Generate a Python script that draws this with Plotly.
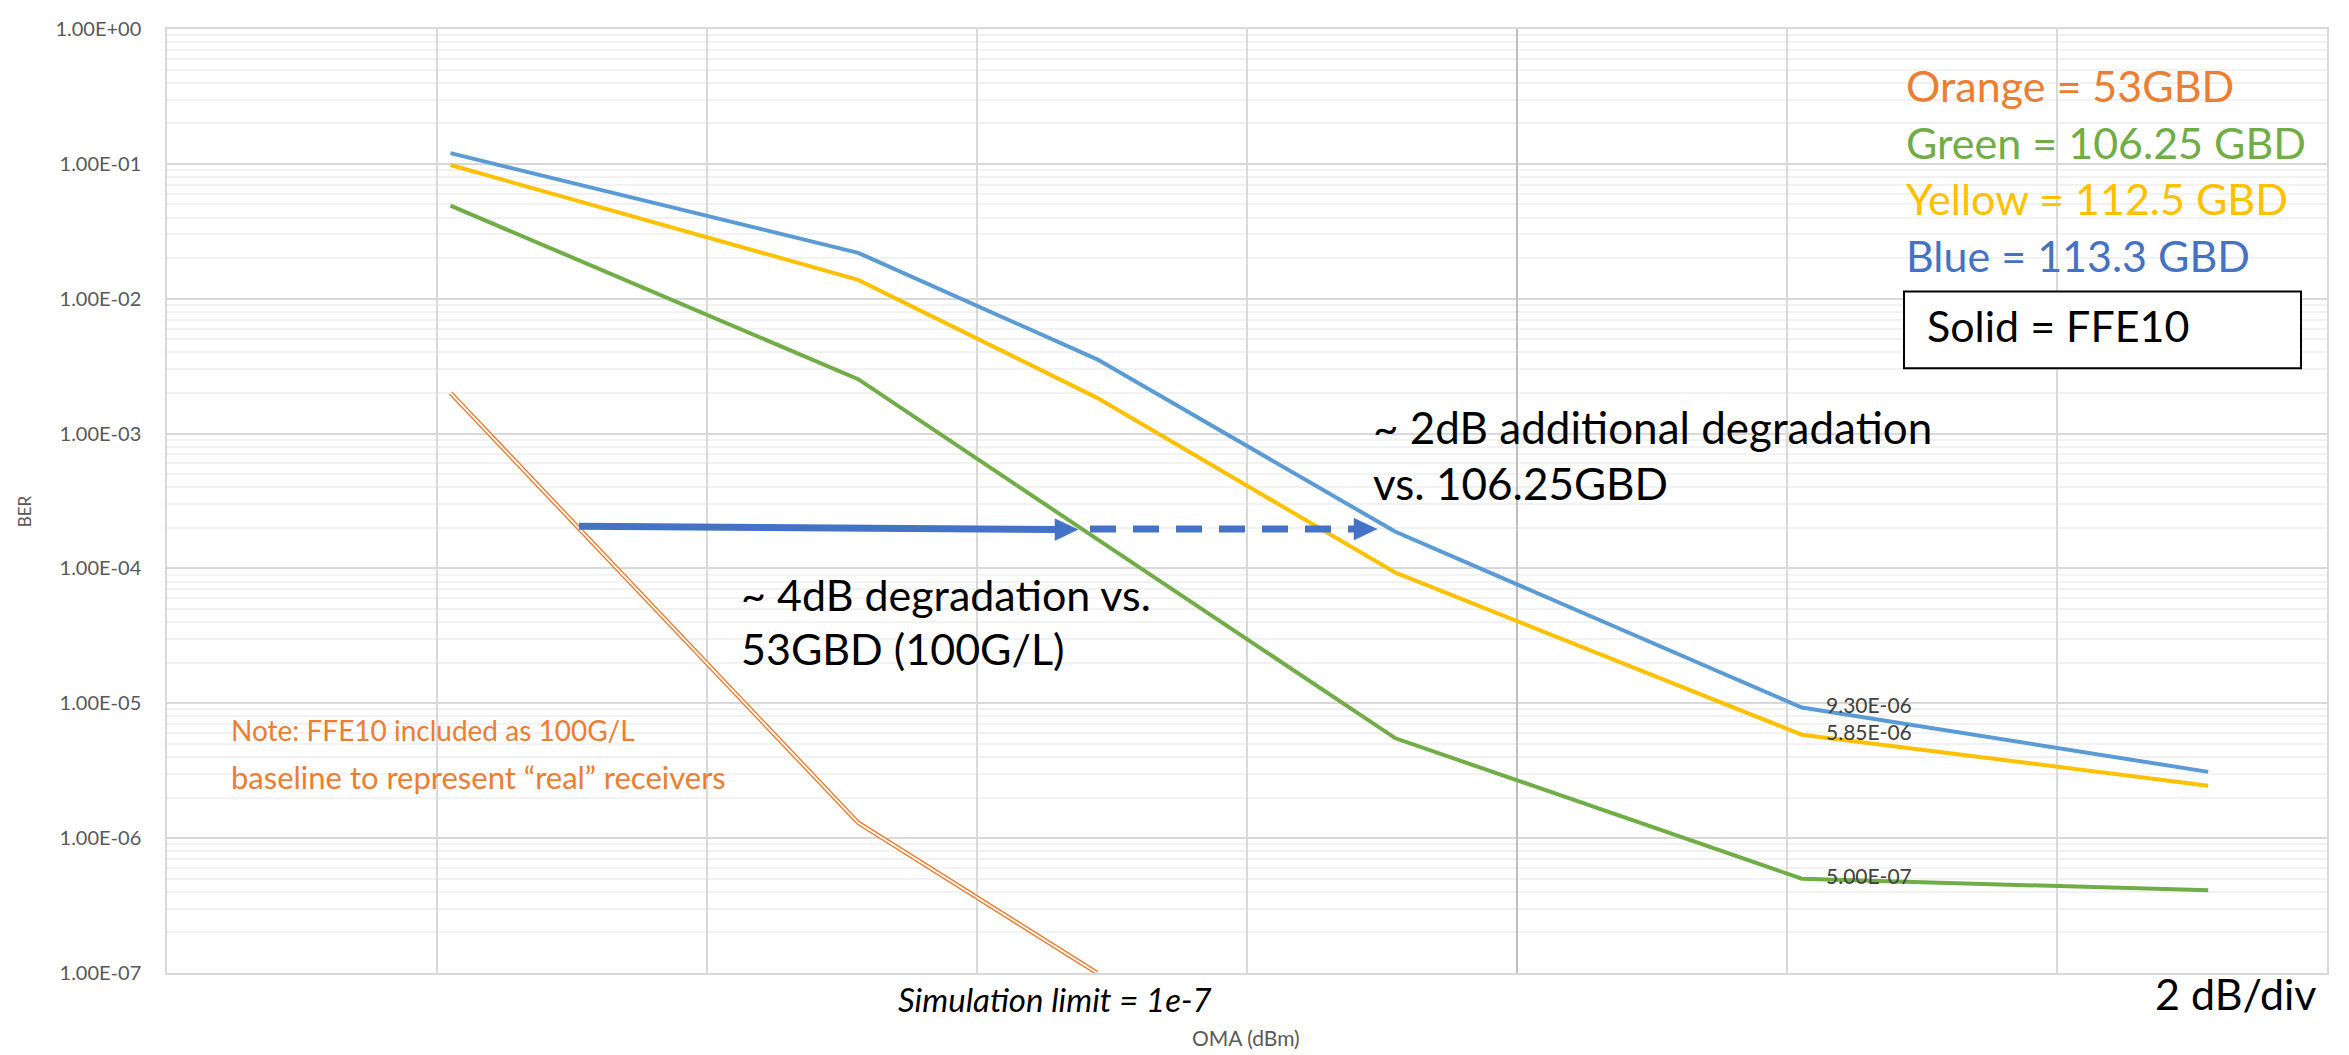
import numpy as np
import plotly.graph_objects as go

# ---------------- data ----------------
oma_dbm = [-7.9, -4.88, -3.11, -0.9, 2.11, 5.12]
ber_blue = [0.12, 0.0219, 0.00355, 1.87e-4, 9.30e-6, 3.1e-6]      # 113.3 GBD
ber_yellow = [0.098, 0.0138, 0.00184, 9.3e-5, 5.85e-6, 2.45e-6]   # 112.5 GBD
ber_green = [0.049, 0.00253, 1.65e-4, 5.5e-6, 5.00e-7, 4.1e-7]   # 106.25 GBD
oma_orange = [-7.9, -4.88, -3.11]
ber_orange = [2.0e-3, 1.3e-6, 1.0e-7]                               # 53 GBD

label_index = 4  # point that carries a data label
y_ticks = [1e0, 1e-1, 1e-2, 1e-3, 1e-4, 1e-5, 1e-6, 1e-7]
y_ticktext = ["1.00E+00", "1.00E-01", "1.00E-02", "1.00E-03",
              "1.00E-04", "1.00E-05", "1.00E-06", "1.00E-07"]

# ---------------- style ----------------
C_BLUE_LINE = "#5B9BD5"
C_BLUE_TXT = "#4472C4"
C_YELLOW = "#FFC000"
C_GREEN = "#70AD47"
C_ORANGE = "#ED7D31"
FONT = "Lato"

W, H = 2349, 1055
BODY = 8                          # default page margin of the html body
L, R, T, B = 167, 2327, 16, 973   # plot area in page pixels


def P(px, py):
    """page pixel position -> paper coordinates (for annotations only)"""
    return (px - L) / (R - L), (B - py) / (B - T)


fig = go.Figure()

# orange: double (compound) line -> orange wide + white thin on top
fig.add_trace(go.Scatter(x=oma_orange, y=ber_orange, mode="lines",
                         line=dict(color=C_ORANGE, width=4.6), showlegend=False,
                         hoverinfo="skip"))
fig.add_trace(go.Scatter(x=oma_orange, y=ber_orange, mode="lines",
                         line=dict(color="white", width=1.8), showlegend=False,
                         name="53GBD"))
fig.add_trace(go.Scatter(x=oma_dbm, y=ber_green, mode="lines",
                         line=dict(color=C_GREEN, width=4), showlegend=False,
                         name="106.25 GBD"))
fig.add_trace(go.Scatter(x=oma_dbm, y=ber_yellow, mode="lines",
                         line=dict(color=C_YELLOW, width=4), showlegend=False,
                         name="112.5 GBD"))
fig.add_trace(go.Scatter(x=oma_dbm, y=ber_blue, mode="lines",
                         line=dict(color=C_BLUE_LINE, width=4), showlegend=False,
                         name="113.3 GBD"))

# data labels
for series in (ber_blue, ber_yellow, ber_green):
    v = series[label_index]
    fig.add_annotation(x=oma_dbm[label_index], y=np.log10(v), xref="x", yref="y",
                       text=f"{v:.2E}", showarrow=False, xanchor="left",
                       yanchor="middle", xshift=22, yshift=3,
                       font=dict(family=FONT, size=21, color="#404040"))

minor_vals = [m * 10.0 ** k for k in range(-7, 0) for m in range(2, 10)]

fig.update_layout(
    width=W - BODY, height=H - BODY,
    margin=dict(l=L - BODY, r=W - R, t=T - BODY, b=H - B, pad=0),
    paper_bgcolor="white", plot_bgcolor="white",
    showlegend=False,
    font=dict(family=FONT),
    xaxis=dict(range=[-10, 6], dtick=2, tick0=0, showticklabels=False,
               showgrid=True, gridcolor="#D9D9D9", gridwidth=1.5,
               zeroline=True, zerolinecolor="#BFBFBF", zerolinewidth=1.5,
               showline=True, linecolor="#D9D9D9", linewidth=1.5, mirror=True,
               ticks=""),
    yaxis=dict(type="log", range=[-7, 0], tickvals=y_ticks, ticktext=y_ticktext,
               showgrid=True, gridcolor="#D9D9D9", gridwidth=1.5,
               showline=True, linecolor="#D9D9D9", linewidth=1.5, mirror=True,
               ticks="", ticklabelstandoff=20, ticklabeloverflow="allow",
               tickfont=dict(family=FONT, size=20, color="#595959"),
               minor=dict(tickvals=minor_vals, showgrid=True,
                          gridcolor="#F2F2F2", gridwidth=1.5, ticks="")),
)

# ---------------- arrows ----------------
ARROW = C_BLUE_TXT
x0, y0 = P(579, 520)
x1, y1 = P(1058, 523.5)
fig.add_shape(type="line", xref="paper", yref="paper", x0=x0, y0=y0, x1=x1, y1=y1,
              line=dict(color=ARROW, width=7))
a, b = P(1055, 512.5)
c, d = P(1055, 534.5)
e, f = P(1078, 523.5)
fig.add_shape(type="path", xref="paper", yref="paper",
              path=f"M{a},{b} L{c},{d} L{e},{f} Z",
              fillcolor=ARROW, line=dict(color=ARROW, width=0.5))

x0, y0 = P(1090, 523)
x1, y1 = P(1356, 523)
fig.add_shape(type="line", xref="paper", yref="paper", x0=x0, y0=y0, x1=x1, y1=y1,
              line=dict(color=ARROW, width=7, dash="26px,17px"))
a, b = P(1354, 512)
c, d = P(1354, 534)
e, f = P(1377, 523)
fig.add_shape(type="path", xref="paper", yref="paper",
              path=f"M{a},{b} L{c},{d} L{e},{f} Z",
              fillcolor=ARROW, line=dict(color=ARROW, width=0.5))


def text(px, py, s, size, color="black", xanchor="left", italic=False, angle=0):
    x, y = P(px, py)
    fig.add_annotation(x=x, y=y, xref="paper", yref="paper", text=s,
                       showarrow=False, xanchor=xanchor, yanchor="middle",
                       textangle=angle,
                       yshift=0 if angle else round(0.1 * size),
                       font=dict(family=FONT, size=size, color=color,
                                 style="italic" if italic else "normal"))


# legend-like colored text
text(1904, 77, "Orange = 53GBD", 43, C_ORANGE)
text(1904, 135, "Green = 106.25 GBD", 43, C_GREEN)
text(1904, 192, "Yellow = 112.5 GBD", 43, C_YELLOW)
text(1904, 250, "Blue = 113.3 GBD", 43, C_BLUE_TXT)

bx0, by0 = P(1904, 282)
bx1, by1 = P(2301, 360)
fig.add_shape(type="rect", xref="paper", yref="paper", x0=bx0, y0=by1, x1=bx1, y1=by0,
              line=dict(color="black", width=2), fillcolor="white", layer="above")
text(1925, 321, "Solid = FFE10", 43, "black")

# comments
text(1371, 424, "~ 2dB additional degradation", 44)
text(1371, 480, "vs. 106.25GBD", 44)
text(739, 593, "~ 4dB degradation vs.", 43)
text(739, 648, "53GBD (100G/L)", 43)
text(229, 730, "Note: FFE10 included as 100G/L", 28, C_ORANGE)
text(229, 777, "baseline to represent \u201creal\u201d receivers", 31, C_ORANGE)
text(1055, 1002, "Simulation limit = 1e-7", 33, xanchor="center", italic=True)
text(2319, 998, "2 dB/div", 43, xanchor="right")

# axis titles
text(1246, 1040, "OMA (dBm)", 21, "#595959", xanchor="center")
text(24, 505, "BER", 17, "#595959", xanchor="center", angle=-90)

fig.write_html("out.html")
